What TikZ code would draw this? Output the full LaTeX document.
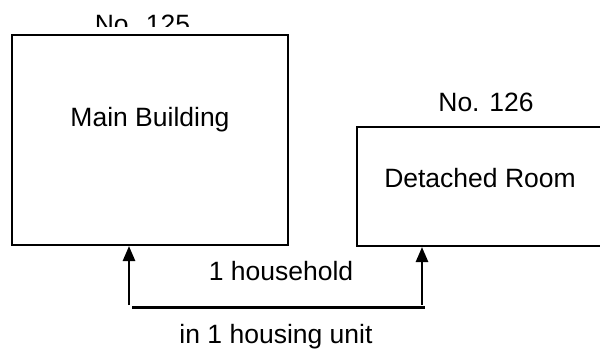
\documentclass[tikz,border=0pt]{standalone}
\usepackage{fontspec}
\setmainfont{Liberation Sans}
\usetikzlibrary{arrows.meta}
\begin{document}
\begin{tikzpicture}[x=1pt,y=-1pt,
  txt/.style={font=\fontsize{26.5}{30}\selectfont, inner sep=0pt, anchor=base},
  building/.style={draw, line width=2pt, fill=white, inner sep=0pt},
  uparrow/.style={line width=2.5pt, -{Triangle[width=12pt,length=15pt]}},
  bond/.style={line width=3pt}]
  \useasboundingbox (0,0) rectangle (600,350);
  \clip (0,0) rectangle (600,350);
  \fill[white] (0,0) rectangle (600,350);

  % house number above the main building, cut off by its frame
  \begin{scope}
    \clip (0,0) rectangle (600,27);
    \node[txt] (no125) at (142.5,34) {No. 125};
  \end{scope}

  % the two buildings
  \node[building, minimum width=276pt, minimum height=210pt] (main) at (150,140) {};
  \node[building, minimum width=283pt, minimum height=119pt] (room) at (498.5,186.5) {};

  \node[txt] (maintxt) at (150,127) {Main Building};
  \node[txt] (roomtxt) at (480,188) {Detached Room};
  \node[txt] (no126) at (486,112) {No. 126};

  % link between both buildings
  \coordinate (la) at (129,305);
  \coordinate (ra) at (422,305);
  \coordinate (hl) at (132,307);
  \coordinate (hr) at (425,307);
  \draw[uparrow] (la) -- (la |- main.south);
  \draw[uparrow] (ra) -- (ra |- room.south);
  \draw[bond] (hl) -- (hr);

  \node[txt] (household) at (281,280) {1 household};
  \node[txt] (unit) at (276,343) {in 1 housing unit};
\end{tikzpicture}
\end{document}
